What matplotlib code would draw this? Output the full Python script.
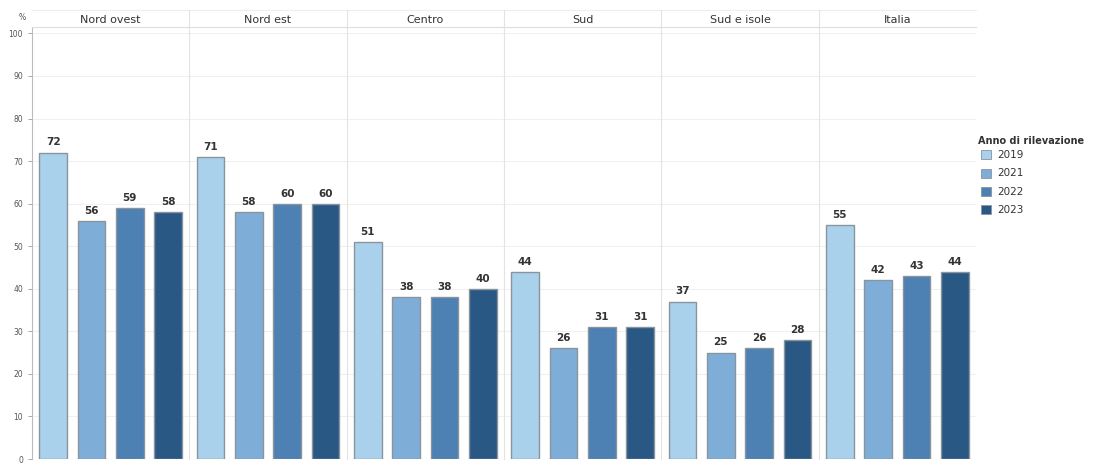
import matplotlib.pyplot as plt
import numpy as np

regions = ['Nord ovest', 'Nord est', 'Centro', 'Sud', 'Sud e isole', 'Italia']
years = ['2019', '2021', '2022', '2023']
v2019 = [72, 71, 51, 44, 37, 55]
v2021 = [56, 58, 38, 26, 25, 42]
v2022 = [59, 60, 38, 31, 26, 43]
v2023 = [58, 60, 40, 31, 28, 44]
series = [v2019, v2021, v2022, v2023]
colors = ['#a9d1ec', '#7eadd8', '#4d80b3', '#2a5885']

plt.rcParams['font.family'] = ['DejaVu Sans']

fig = plt.figure(figsize=(11, 4.65), dpi=100)
left, right = 32 / 1100, 976 / 1100
bottom, top = 1 - 459 / 465, 1 - 27 / 465
pw = (right - left) / len(regions)

axes = []
for i, reg in enumerate(regions):
    ax = fig.add_axes([left + i * pw, bottom, pw, top - bottom])
    axes.append(ax)
    vals = [s[i] for s in series]
    x = np.arange(4)
    ax.bar(x, vals, width=0.72, color=colors, edgecolor='#8a949c', linewidth=1.0)
    for xi, v in zip(x, vals):
        ax.text(xi, v + 1.2, str(v), ha='center', va='bottom', fontsize=7.5,
                fontweight='bold', color='#333333')
    ax.set_xlim(-0.55, 3.55)
    ax.set_ylim(0, 101.5)
    ax.set_xticks([])
    ax.set_yticks(range(0, 101, 10))
    ax.grid(axis='y', color='#f0f0f0', linewidth=0.8)
    ax.set_axisbelow(True)
    for side in ['top', 'bottom', 'left', 'right']:
        ax.spines[side].set_visible(False)
    if i > 0:
        ax.spines['left'].set_visible(True)
        ax.spines['left'].set_color('#e3e3e3')
        ax.tick_params(axis='y', left=False, labelleft=False)
    else:
        ax.tick_params(axis='y', labelsize=5.5, colors='#555555', length=3, width=0.6,
                       color='#999999')
        ax.spines['left'].set_visible(True)
        ax.spines['left'].set_color('#bbbbbb')
    # header strip
    ax.text(0.5, 1.005, reg, transform=ax.transAxes, ha='center', va='bottom',
            fontsize=8, color='#333333')

# header lines
fig.add_artist(plt.Line2D([left, right], [top, top], color='#dddddd', linewidth=0.8))
fig.add_artist(plt.Line2D([left, right], [1 - 10 / 465, 1 - 10 / 465], color='#eeeeee', linewidth=0.8))
for i in range(1, len(regions)):
    xx = left + i * pw
    fig.add_artist(plt.Line2D([xx, xx], [top, 1 - 10 / 465], color='#e3e3e3', linewidth=0.8))

fig.text(22 / 1100, 1 - 17 / 465, '%', fontsize=5.5, color='#555555', ha='center', va='center')

# legend
fig.text(978 / 1100, 1 - 141 / 465, 'Anno di rilevazione', fontsize=7, fontweight='bold',
         color='#333333', va='center')
for k, (yr, c) in enumerate(zip(years, colors)):
    yy = 1 - (155 + k * 18.3) / 465
    fig.patches.append(plt.Rectangle((981 / 1100, yy - 4.5 / 465), 10 / 1100, 9 / 465,
                                     transform=fig.transFigure, facecolor=c,
                                     edgecolor='#8a949c', linewidth=0.6))
    fig.text(997 / 1100, yy, yr, fontsize=7.5, color='#333333', va='center')

plt.savefig('out.png', dpi=100)
